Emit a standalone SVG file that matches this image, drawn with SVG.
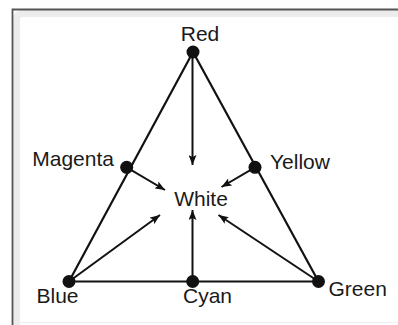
<svg xmlns="http://www.w3.org/2000/svg" width="398" height="325" viewBox="0 0 398 325">
<style>
.edge{stroke:#111;stroke-width:2.2;fill:none}
.arr{stroke:#111;stroke-width:2;fill:none;marker-end:url(#ah)}
.dot{fill:#111}
text{font-family:"Liberation Sans",Arial,sans-serif;font-size:21px;fill:#1a1a1a}
</style>
<defs>
<marker id="ah" viewBox="0 0 10 8" refX="10" refY="4" markerWidth="10" markerHeight="8" markerUnits="userSpaceOnUse" orient="auto">
<path d="M0,0 L10,4 L0,8 L2,4 Z" fill="#111"/>
</marker>
</defs>
<rect width="398" height="325" fill="#fff"/>
<path d="M16.5,325 V20 Q16.5,13.5 23,13.5 H398" fill="none" stroke="#ececec" stroke-width="7"/>
<path d="M12.5,325 V9.5 H398" fill="none" stroke="#555" stroke-width="1.8"/>
<line x1="20" y1="322.5" x2="398" y2="322.5" stroke="#f0f0f0" stroke-width="1"/>
<g id="connectors">
<line class="edge" x1="193" y1="52" x2="69" y2="281.5"/>
<line class="edge" x1="193" y1="52" x2="318.5" y2="281.5"/>
<line class="edge" x1="69" y1="281.5" x2="318.5" y2="281.5"/>
<line class="arr" x1="192.5" y1="52" x2="192.5" y2="165"/>
<line class="arr" x1="192.5" y1="281" x2="192.5" y2="210"/>
<line class="arr" x1="126.7" y1="167.3" x2="165" y2="190"/>
<line class="arr" x1="255" y1="167.3" x2="221.5" y2="187"/>
<line class="arr" x1="69" y1="281.5" x2="160" y2="215"/>
<line class="arr" x1="318.5" y1="281.5" x2="218.5" y2="215"/>
</g>
<g id="red"><circle class="dot" cx="193" cy="52" r="6.5"/><text x="200" y="41" text-anchor="middle">Red</text></g>
<g id="magenta"><circle class="dot" cx="126.7" cy="167.3" r="6.5"/><text x="114" y="166" text-anchor="end">Magenta</text></g>
<g id="yellow"><circle class="dot" cx="255" cy="167.3" r="6.5"/><text x="270" y="169">Yellow</text></g>
<g id="white"><text x="201" y="206" text-anchor="middle">White</text></g>
<g id="blue"><circle class="dot" cx="69" cy="281.5" r="6.5"/><text x="36.5" y="303">Blue</text></g>
<g id="cyan"><circle class="dot" cx="192.7" cy="281.5" r="6.5"/><text x="207.5" y="303" text-anchor="middle">Cyan</text></g>
<g id="green"><circle class="dot" cx="318.5" cy="281.5" r="6.5"/><text x="328.5" y="296">Green</text></g>
</svg>
